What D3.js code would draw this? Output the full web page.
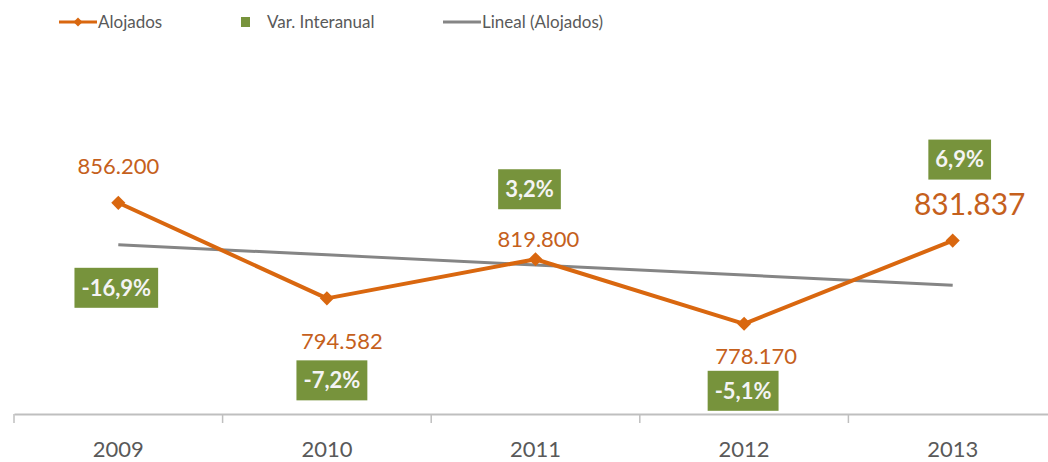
<!DOCTYPE html>
<meta charset="utf-8">
<script src="https://d3js.org/d3.v7.min.js"></script>
<style>
  body { margin: 0; background: #fff; }
  text { font-family: Lato, "Open Sans", sans-serif; }
</style>
<body>
<svg id="chart" width="1048" height="462"></svg>

<script>
    // data
    const years = ["2009", "2010", "2011", "2012", "2013"];
    const alojados = [856200, 794582, 819800, 778170, 831837];
    const varInteranual = [-16.9, -7.2, 3.2, -5.1, 6.9];

    // label placement (relative to the point)
    const valueLabelDx = [0, 15, 3, 12, 17];
    const valueLabelDy = [-29, 51, -12, 40, -26];
    const pctBoxDx = [-2, 5, -6, -1, 7];
    const pctBoxDy = [85, 82, -70, 67, -81];

    const orange = "#d9670f", orangeText = "#c5601c", green = "#77933c", grey = "#595959";

    const svg = d3.select("#chart");

    const x = d3.scaleBand().domain(years).range([14, 1057]);
    const y = d3.scaleLinear().domain([720000, 880000]).range([414, 165.9]);
    const cx = d => x(d) + x.bandwidth() / 2;

    // x axis
    const axis = svg.append("g").attr("transform", "translate(0,414)")
        .call(d3.axisBottom(x).tickSize(0).tickPadding(0).tickFormat(""));
    axis.select(".domain").attr("stroke", "#bfbfbf").attr("stroke-width", 2);
    axis.selectAll(".tick").remove();
    svg.append("g").selectAll("line")
        .data(years)
        .join("line")
            .attr("x1", d => x(d)).attr("x2", d => x(d))
            .attr("y1", 414).attr("y2", 423)
            .attr("stroke", "#bfbfbf").attr("stroke-width", 1.5);
    svg.append("g").selectAll("text")
        .data(years)
        .join("text")
            .attr("x", cx).attr("y", 457)
            .attr("text-anchor", "middle")
            .attr("fill", grey).attr("font-size", 22)
            .text(d => d);

    // linear trend (least squares, like Excel's "Lineal")
    const n = alojados.length;
    const xs = d3.range(1, n + 1);
    const mx = d3.mean(xs), my = d3.mean(alojados);
    const slope = d3.sum(xs, (v, i) => (v - mx) * (alojados[i] - my)) / d3.sum(xs, v => (v - mx) ** 2);
    const trend = xs.map(v => my + slope * (v - mx));

    svg.append("path")
        .datum(trend)
        .attr("fill", "none")
        .attr("stroke", "#858585")
        .attr("stroke-width", 3)
        .attr("d", d3.line().x((d, i) => cx(years[i])).y(d => y(d)));

    // main line
    svg.append("path")
        .datum(alojados)
        .attr("fill", "none")
        .attr("stroke", orange)
        .attr("stroke-width", 4)
        .attr("stroke-linejoin", "round")
        .attr("d", d3.line().x((d, i) => cx(years[i])).y(d => y(d)));

    const diamond = d3.symbol(d3.symbolSquare, 100);
    svg.append("g").selectAll("path")
        .data(alojados)
        .join("path")
            .attr("d", diamond)
            .attr("fill", orange)
            .attr("transform", (d, i) => `translate(${cx(years[i])},${y(d)}) rotate(45)`);

    // value labels
    const fmt = v => d3.format(",")(v).replace(/,/g, ".");
    svg.append("g").selectAll("text")
        .data(alojados)
        .join("text")
            .attr("x", (d, i) => cx(years[i]) + valueLabelDx[i])
            .attr("y", (d, i) => y(d) + valueLabelDy[i])
            .attr("text-anchor", "middle")
            .attr("fill", orangeText)
            .attr("font-size", (d, i) => i === n - 1 ? 30 : 22)
            .text(fmt);

    // Var. Interanual boxes
    const pctFmt = v => v.toFixed(1).replace(".", ",") + "%";
    const boxes = svg.append("g").selectAll("g")
        .data(varInteranual)
        .join("g")
            .attr("transform", (d, i) => `translate(${cx(years[i]) + pctBoxDx[i]},${y(alojados[i]) + pctBoxDy[i]})`);
    const boxText = boxes.append("text")
        .attr("text-anchor", "middle")
        .attr("dy", "0.35em")
        .attr("fill", "#f4f4f4")
        .attr("font-size", 22)
        .attr("font-weight", "bold")
        .text(pctFmt);
    boxes.insert("rect", "text")
        .attr("fill", green)
        .each(function(d, i) {
            const w = boxText.nodes()[i].getBBox().width + 14;
            d3.select(this).attr("x", -w / 2).attr("y", -20).attr("width", w).attr("height", 40);
        });

    // legend
    const legend = svg.append("g").attr("font-size", 17).attr("fill", grey);
    legend.append("line").attr("x1", 59).attr("x2", 97).attr("y1", 22).attr("y2", 22)
        .attr("stroke", orange).attr("stroke-width", 3);
    legend.append("path").attr("d", d3.symbol(d3.symbolSquare, 40))
        .attr("fill", orange).attr("transform", "translate(78,22) rotate(45)");
    legend.append("text").attr("x", 98).attr("y", 28).text("Alojados");
    legend.append("rect").attr("x", 241).attr("y", 17).attr("width", 9).attr("height", 10).attr("fill", green);
    legend.append("text").attr("x", 267).attr("y", 28).text("Var. Interanual");
    legend.append("line").attr("x1", 443).attr("x2", 481).attr("y1", 22).attr("y2", 22)
        .attr("stroke", "#858585").attr("stroke-width", 3);
    legend.append("text").attr("x", 482).attr("y", 28).text("Lineal (Alojados)");
</script>
</body>
